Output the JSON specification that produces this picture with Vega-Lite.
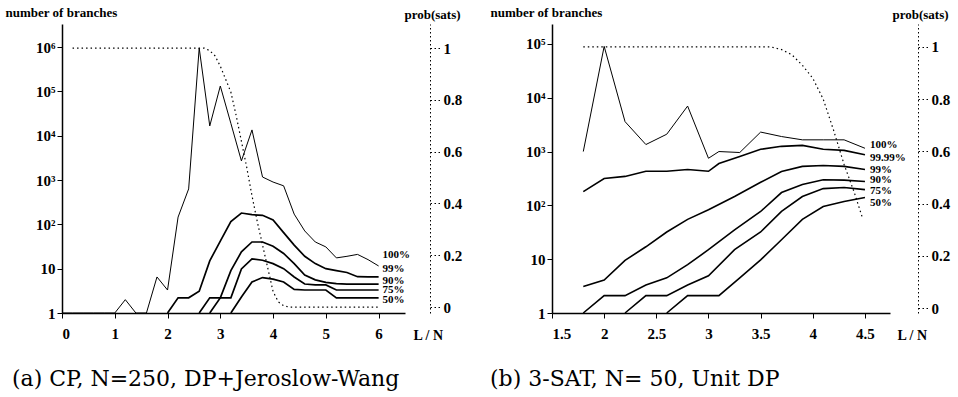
{
  "$schema": "https://vega.github.io/schema/vega-lite/v6.json",
  "background": "white",
  "padding": {"left": 5, "top": 6, "right": 5, "bottom": 2},
  "config": {
    "view": {"stroke": null},
    "axis": {"grid": false, "domainColor": "black", "tickColor": "black", "labelColor": "black", "titleColor": "black",
             "labelFont": "'Liberation Serif', 'Times New Roman', Times, serif", "labelFontWeight": "bold", "labelFontSize": 15,
             "titleFont": "'Liberation Serif', 'Times New Roman', Times, serif", "titleFontWeight": "bold", "titleFontSize": 13}
  },
  "datasets": {
    "cp": [
      {"s": "100%", "x": 0, "n": 1}, {"s": "100%", "x": 0.2, "n": 1}, {"s": "100%", "x": 0.4, "n": 1}, {"s": "100%", "x": 0.6, "n": 1},
      {"s": "100%", "x": 0.8, "n": 1}, {"s": "100%", "x": 1.0, "n": 1}, {"s": "100%", "x": 1.2, "n": 2}, {"s": "100%", "x": 1.4, "n": 1},
      {"s": "100%", "x": 1.6, "n": 1}, {"s": "100%", "x": 1.8, "n": 6.5}, {"s": "100%", "x": 2.0, "n": 3.3}, {"s": "100%", "x": 2.2, "n": 146},
      {"s": "100%", "x": 2.4, "n": 630}, {"s": "100%", "x": 2.6, "n": 950000}, {"s": "100%", "x": 2.8, "n": 16600}, {"s": "100%", "x": 3.0, "n": 132000},
      {"s": "100%", "x": 3.2, "n": 19000}, {"s": "100%", "x": 3.4, "n": 2700}, {"s": "100%", "x": 3.6, "n": 13500}, {"s": "100%", "x": 3.8, "n": 1170},
      {"s": "100%", "x": 4.0, "n": 900}, {"s": "100%", "x": 4.2, "n": 740}, {"s": "100%", "x": 4.4, "n": 170}, {"s": "100%", "x": 4.6, "n": 71},
      {"s": "100%", "x": 4.8, "n": 40}, {"s": "100%", "x": 5.0, "n": 31}, {"s": "100%", "x": 5.2, "n": 17.5}, {"s": "100%", "x": 5.4, "n": 19},
      {"s": "100%", "x": 5.6, "n": 21}, {"s": "100%", "x": 5.8, "n": 16}, {"s": "100%", "x": 6.0, "n": 11.5},
      {"s": "99%", "x": 2.0, "n": 1}, {"s": "99%", "x": 2.2, "n": 2.2}, {"s": "99%", "x": 2.4, "n": 2.2}, {"s": "99%", "x": 2.6, "n": 3.1},
      {"s": "99%", "x": 2.8, "n": 15}, {"s": "99%", "x": 3.0, "n": 42}, {"s": "99%", "x": 3.2, "n": 115}, {"s": "99%", "x": 3.4, "n": 180},
      {"s": "99%", "x": 3.6, "n": 165}, {"s": "99%", "x": 3.8, "n": 160}, {"s": "99%", "x": 4.0, "n": 126}, {"s": "99%", "x": 4.2, "n": 65},
      {"s": "99%", "x": 4.4, "n": 34}, {"s": "99%", "x": 4.6, "n": 19}, {"s": "99%", "x": 4.8, "n": 13}, {"s": "99%", "x": 5.0, "n": 10},
      {"s": "99%", "x": 5.2, "n": 9}, {"s": "99%", "x": 5.4, "n": 8.2}, {"s": "99%", "x": 5.6, "n": 6.6}, {"s": "99%", "x": 5.8, "n": 6.5},
      {"s": "99%", "x": 6.0, "n": 6.5},
      {"s": "90%", "x": 2.6, "n": 1}, {"s": "90%", "x": 2.8, "n": 2.2}, {"s": "90%", "x": 3.0, "n": 2.2}, {"s": "90%", "x": 3.2, "n": 9},
      {"s": "90%", "x": 3.4, "n": 24}, {"s": "90%", "x": 3.6, "n": 40}, {"s": "90%", "x": 3.8, "n": 40}, {"s": "90%", "x": 4.0, "n": 32},
      {"s": "90%", "x": 4.2, "n": 22}, {"s": "90%", "x": 4.4, "n": 13}, {"s": "90%", "x": 4.6, "n": 7.2}, {"s": "90%", "x": 4.8, "n": 5.6},
      {"s": "90%", "x": 5.0, "n": 4.9}, {"s": "90%", "x": 5.2, "n": 4.6}, {"s": "90%", "x": 5.4, "n": 4.5}, {"s": "90%", "x": 5.6, "n": 4.5},
      {"s": "90%", "x": 5.8, "n": 4.5}, {"s": "90%", "x": 6.0, "n": 4.5},
      {"s": "75%", "x": 2.8, "n": 1}, {"s": "75%", "x": 3.0, "n": 2.2}, {"s": "75%", "x": 3.2, "n": 2.2}, {"s": "75%", "x": 3.4, "n": 9.9},
      {"s": "75%", "x": 3.6, "n": 16.6}, {"s": "75%", "x": 3.8, "n": 15.5}, {"s": "75%", "x": 4.0, "n": 13}, {"s": "75%", "x": 4.2, "n": 10},
      {"s": "75%", "x": 4.4, "n": 6.5}, {"s": "75%", "x": 4.6, "n": 4.5}, {"s": "75%", "x": 4.8, "n": 4.3}, {"s": "75%", "x": 5.0, "n": 4.3},
      {"s": "75%", "x": 5.2, "n": 3.3}, {"s": "75%", "x": 5.4, "n": 3.3}, {"s": "75%", "x": 5.6, "n": 3.3}, {"s": "75%", "x": 5.8, "n": 3.3},
      {"s": "75%", "x": 6.0, "n": 3.3},
      {"s": "50%", "x": 3.2, "n": 1}, {"s": "50%", "x": 3.4, "n": 2.3}, {"s": "50%", "x": 3.6, "n": 5.0}, {"s": "50%", "x": 3.8, "n": 6.3},
      {"s": "50%", "x": 4.0, "n": 5.8}, {"s": "50%", "x": 4.2, "n": 5.0}, {"s": "50%", "x": 4.4, "n": 3.4}, {"s": "50%", "x": 4.6, "n": 3.3},
      {"s": "50%", "x": 4.8, "n": 3.3}, {"s": "50%", "x": 5.0, "n": 3.3}, {"s": "50%", "x": 5.2, "n": 2.2}, {"s": "50%", "x": 5.4, "n": 2.2},
      {"s": "50%", "x": 5.6, "n": 2.2}, {"s": "50%", "x": 5.8, "n": 2.2}, {"s": "50%", "x": 6.0, "n": 2.2}
    ],
    "cpProb": [
      {"x": 0.2, "p": 1}, {"x": 2.7, "p": 1}, {"x": 2.8, "p": 0.99}, {"x": 2.9, "p": 0.97}, {"x": 3.0, "p": 0.93},
      {"x": 3.1, "p": 0.88}, {"x": 3.2, "p": 0.83}, {"x": 3.3, "p": 0.74}, {"x": 3.4, "p": 0.64}, {"x": 3.5, "p": 0.54},
      {"x": 3.6, "p": 0.43}, {"x": 3.7, "p": 0.33}, {"x": 3.8, "p": 0.24}, {"x": 3.9, "p": 0.15}, {"x": 4.0, "p": 0.06},
      {"x": 4.1, "p": 0.02}, {"x": 4.2, "p": 0.005}, {"x": 4.3, "p": 0}, {"x": 6.0, "p": 0}
    ],
    "sat": [
      {"s": "100%", "x": 1.8, "n": 1000}, {"s": "100%", "x": 2.0, "n": 90000}, {"s": "100%", "x": 2.2, "n": 3600}, {"s": "100%", "x": 2.4, "n": 1350},
      {"s": "100%", "x": 2.6, "n": 2100}, {"s": "100%", "x": 2.8, "n": 7000}, {"s": "100%", "x": 3.0, "n": 750}, {"s": "100%", "x": 3.1, "n": 1000},
      {"s": "100%", "x": 3.3, "n": 960}, {"s": "100%", "x": 3.5, "n": 2300}, {"s": "100%", "x": 3.7, "n": 1900}, {"s": "100%", "x": 3.9, "n": 1650},
      {"s": "100%", "x": 4.1, "n": 1650}, {"s": "100%", "x": 4.3, "n": 1650}, {"s": "100%", "x": 4.5, "n": 1150},
      {"s": "99.99%", "x": 1.8, "n": 180}, {"s": "99.99%", "x": 2.0, "n": 316}, {"s": "99.99%", "x": 2.2, "n": 345}, {"s": "99.99%", "x": 2.4, "n": 430},
      {"s": "99.99%", "x": 2.6, "n": 430}, {"s": "99.99%", "x": 2.8, "n": 465}, {"s": "99.99%", "x": 3.0, "n": 430}, {"s": "99.99%", "x": 3.1, "n": 600},
      {"s": "99.99%", "x": 3.3, "n": 810}, {"s": "99.99%", "x": 3.5, "n": 1100}, {"s": "99.99%", "x": 3.7, "n": 1250}, {"s": "99.99%", "x": 3.9, "n": 1300},
      {"s": "99.99%", "x": 4.1, "n": 1100}, {"s": "99.99%", "x": 4.3, "n": 1050}, {"s": "99.99%", "x": 4.5, "n": 870},
      {"s": "99%", "x": 1.8, "n": 3.1}, {"s": "99%", "x": 2.0, "n": 4.1}, {"s": "99%", "x": 2.2, "n": 9.5}, {"s": "99%", "x": 2.4, "n": 17},
      {"s": "99%", "x": 2.6, "n": 32}, {"s": "99%", "x": 2.8, "n": 55}, {"s": "99%", "x": 3.0, "n": 83}, {"s": "99%", "x": 3.25, "n": 146},
      {"s": "99%", "x": 3.5, "n": 268}, {"s": "99%", "x": 3.7, "n": 427}, {"s": "99%", "x": 3.9, "n": 530}, {"s": "99%", "x": 4.1, "n": 550},
      {"s": "99%", "x": 4.3, "n": 530}, {"s": "99%", "x": 4.5, "n": 465},
      {"s": "90%", "x": 1.8, "n": 1}, {"s": "90%", "x": 2.0, "n": 2.1}, {"s": "90%", "x": 2.2, "n": 2.1}, {"s": "90%", "x": 2.4, "n": 3.3},
      {"s": "90%", "x": 2.6, "n": 4.5}, {"s": "90%", "x": 2.8, "n": 7.9}, {"s": "90%", "x": 3.0, "n": 15}, {"s": "90%", "x": 3.25, "n": 35},
      {"s": "90%", "x": 3.5, "n": 77}, {"s": "90%", "x": 3.7, "n": 173}, {"s": "90%", "x": 3.9, "n": 245}, {"s": "90%", "x": 4.1, "n": 300},
      {"s": "90%", "x": 4.3, "n": 295}, {"s": "90%", "x": 4.5, "n": 277},
      {"s": "75%", "x": 2.2, "n": 1}, {"s": "75%", "x": 2.4, "n": 2.1}, {"s": "75%", "x": 2.6, "n": 2.1}, {"s": "75%", "x": 2.8, "n": 3.3},
      {"s": "75%", "x": 3.0, "n": 4.9}, {"s": "75%", "x": 3.25, "n": 15}, {"s": "75%", "x": 3.5, "n": 32}, {"s": "75%", "x": 3.7, "n": 77},
      {"s": "75%", "x": 3.9, "n": 146}, {"s": "75%", "x": 4.1, "n": 205}, {"s": "75%", "x": 4.3, "n": 215}, {"s": "75%", "x": 4.5, "n": 196},
      {"s": "50%", "x": 2.6, "n": 1}, {"s": "50%", "x": 2.8, "n": 2.1}, {"s": "50%", "x": 3.1, "n": 2.1}, {"s": "50%", "x": 3.3, "n": 4.5},
      {"s": "50%", "x": 3.5, "n": 9.7}, {"s": "50%", "x": 3.7, "n": 23}, {"s": "50%", "x": 3.9, "n": 55}, {"s": "50%", "x": 4.1, "n": 95},
      {"s": "50%", "x": 4.3, "n": 118}, {"s": "50%", "x": 4.5, "n": 140}
    ],
    "satProb": [
      {"x": 1.8, "p": 1}, {"x": 3.6, "p": 1}, {"x": 3.7, "p": 0.99}, {"x": 3.8, "p": 0.97}, {"x": 3.9, "p": 0.93},
      {"x": 4.0, "p": 0.88}, {"x": 4.1, "p": 0.8}, {"x": 4.2, "p": 0.68}, {"x": 4.3, "p": 0.55}, {"x": 4.4, "p": 0.44}, {"x": 4.48, "p": 0.34}
    ]
  },
  "hconcat": [
    {
      "width": 343, "height": 289,
      "title": {"text": "(a) CP, N=250, DP+Jeroslow-Wang", "orient": "bottom", "anchor": "start", "frame": "bounds",
                "font": "DejaVu Serif", "fontSize": 22, "fontWeight": "normal", "color": "black", "offset": 27, "dx": 7},
      "layer": [
        {
          "layer": [
            {
              "data": {"name": "cp"},
              "mark": {"type": "line", "color": "black"},
              "encoding": {
                "x": {"field": "x", "type": "quantitative", "scale": {"domain": [0, 6.5], "nice": false, "zero": false},
                      "axis": {"values": [0, 1, 2, 3, 4, 5, 6], "format": "d", "tickSize": 5, "domainWidth": 1.5, "labelPadding": 8,
                               "title": "L / N", "titleX": 351, "titleY": 15, "titleAlign": "left", "titleBaseline": "top", "titleFontSize": 14}},
                "y": {"field": "n", "type": "quantitative", "scale": {"type": "log", "domain": [1, 3311000], "nice": false},
                      "axis": {"values": [1, 10, 100, 1000, 10000, 100000, 1000000], "tickSize": 5, "domainWidth": 1.5, "labelPadding": 2,
                               "labelExpr": "datum.value==1?'1':datum.value==10?'10':datum.value==100?'10²':datum.value==1000?'10³':datum.value==10000?'10⁴':datum.value==100000?'10⁵':'10⁶'",
                               "title": "number of branches", "titleAngle": 0, "titleX": -57, "titleY": -12, "titleAlign": "left", "titleBaseline": "middle"}},
                "detail": {"field": "s"},
                "strokeWidth": {"condition": {"test": "datum.s=='100%'", "value": 1}, "value": 1.7}
              }
            },
            {
              "data": {"name": "cp"},
              "transform": [{"joinaggregate": [{"op": "max", "field": "x", "as": "xm"}], "groupby": ["s"]}, {"filter": "datum.x==datum.xm"}],
              "mark": {"type": "text", "align": "left", "dx": 4, "font": "'Liberation Serif', 'Times New Roman', Times, serif", "fontWeight": "bold", "fontSize": 11, "color": "black",
                       "dy": {"expr": "datum.s=='100%'?-11:datum.s=='99%'?-8:datum.s=='90%'?-3:datum.s=='75%'?0:2"}},
              "encoding": {"x": {"field": "x", "type": "quantitative"}, "y": {"field": "n", "type": "quantitative"}, "text": {"field": "s"}}
            },
            {
              "mark": {"type": "point", "shape": "M0,0L-1,-0.3L-1,0.3Z", "filled": true, "color": "black", "size": 300, "opacity": 1},
              "encoding": {"x": {"datum": 6.5}, "y": {"datum": 1}}
            },
            {
              "mark": {"type": "point", "shape": "M0,0L-0.3,1L0.3,1Z", "filled": true, "color": "black", "size": 300, "opacity": 1},
              "encoding": {"x": {"datum": 0}, "y": {"datum": 3311000}}
            }
          ]
        },
        {
          "data": {"name": "cpProb"},
          "mark": {"type": "line", "color": "black", "strokeWidth": 1.2, "strokeDash": [1.5, 3]},
          "encoding": {
            "x": {"field": "x", "type": "quantitative", "scale": {"domain": [0, 6.5], "nice": false, "zero": false}},
            "y": {"field": "p", "type": "quantitative", "scale": {"domain": [-0.023, 1.093], "nice": false, "zero": false},
                  "axis": {"orient": "right", "offset": 25, "values": [0, 0.2, 0.4, 0.6, 0.8, 1], "domainDash": [1.5, 2.5], "tickDash": [1.5, 2.5],
                           "tickSize": 10, "labelPadding": 3,
                           "labelExpr": "datum.value==0?'0':datum.value==1?'1':format(datum.value,'.1f')",
                           "title": "prob(sats)", "titleAngle": 0, "titleX": 2, "titleY": -10, "titleAlign": "center", "titleBaseline": "middle"}}
          }
        }
      ],
      "resolve": {"scale": {"y": "independent"}}
    },
    {
      "width": 338, "height": 289,
      "title": {"text": "(b) 3-SAT, N= 50, Unit DP", "orient": "bottom", "anchor": "start", "frame": "bounds",
                "font": "DejaVu Serif", "fontSize": 22, "fontWeight": "normal", "color": "black", "offset": 27, "dx": 0},
      "layer": [
        {
          "layer": [
            {
              "data": {"name": "sat"},
              "mark": {"type": "line", "color": "black"},
              "encoding": {
                "x": {"field": "x", "type": "quantitative", "scale": {"domain": [1.5, 4.74], "nice": false, "zero": false},
                      "axis": {"values": [1.5, 2, 2.5, 3, 3.5, 4, 4.5], "format": "~g", "tickSize": 5, "domainWidth": 1.5, "labelPadding": 8,
                               "title": "L / N", "titleX": 345, "titleY": 15, "titleAlign": "left", "titleBaseline": "top", "titleFontSize": 14}},
                "y": {"field": "n", "type": "quantitative", "scale": {"type": "log", "domain": [1, 234400], "nice": false},
                      "axis": {"values": [1, 10, 100, 1000, 10000, 100000], "tickSize": 5, "domainWidth": 1.5, "labelPadding": 2,
                               "labelExpr": "datum.value==1?'1':datum.value==10?'10':datum.value==100?'10²':datum.value==1000?'10³':datum.value==10000?'10⁴':'10⁵'",
                               "title": "number of branches", "titleAngle": 0, "titleX": -62, "titleY": -12, "titleAlign": "left", "titleBaseline": "middle"}},
                "detail": {"field": "s"},
                "strokeWidth": {"condition": {"test": "datum.s=='100%'", "value": 1}, "value": 1.6}
              }
            },
            {
              "data": {"name": "sat"},
              "transform": [{"joinaggregate": [{"op": "max", "field": "x", "as": "xm"}], "groupby": ["s"]}, {"filter": "datum.x==datum.xm"}],
              "mark": {"type": "text", "align": "left", "dx": 5, "font": "'Liberation Serif', 'Times New Roman', Times, serif", "fontWeight": "bold", "fontSize": 11, "color": "black",
                       "dy": {"expr": "datum.s=='100%'?-3:datum.s=='99.99%'?3:datum.s=='99%'?1:datum.s=='90%'?-2:datum.s=='75%'?1:6"}},
              "encoding": {"x": {"field": "x", "type": "quantitative"}, "y": {"field": "n", "type": "quantitative"}, "text": {"field": "s"}}
            },
            {
              "mark": {"type": "point", "shape": "M0,0L-1,-0.3L-1,0.3Z", "filled": true, "color": "black", "size": 300, "opacity": 1},
              "encoding": {"x": {"datum": 4.74}, "y": {"datum": 1}}
            },
            {
              "mark": {"type": "point", "shape": "M0,0L-0.3,1L0.3,1Z", "filled": true, "color": "black", "size": 300, "opacity": 1},
              "encoding": {"x": {"datum": 1.5}, "y": {"datum": 234400}}
            }
          ]
        },
        {
          "data": {"name": "satProb"},
          "mark": {"type": "line", "color": "black", "strokeWidth": 1.2, "strokeDash": [1.5, 3]},
          "encoding": {
            "x": {"field": "x", "type": "quantitative", "scale": {"domain": [1.5, 4.74], "nice": false, "zero": false}},
            "y": {"field": "p", "type": "quantitative", "scale": {"domain": [-0.019, 1.088], "nice": false, "zero": false},
                  "axis": {"orient": "right", "offset": 28, "values": [0, 0.2, 0.4, 0.6, 0.8, 1], "domainDash": [1.5, 2.5], "tickDash": [1.5, 2.5],
                           "tickSize": 10, "labelPadding": 3,
                           "labelExpr": "datum.value==0?'0':datum.value==1?'1':format(datum.value,'.1f')",
                           "title": "prob(sats)", "titleAngle": 0, "titleX": 2, "titleY": -10, "titleAlign": "center", "titleBaseline": "middle"}}
          }
        }
      ],
      "resolve": {"scale": {"y": "independent"}}
    }
  ],
  "spacing": 28
}
